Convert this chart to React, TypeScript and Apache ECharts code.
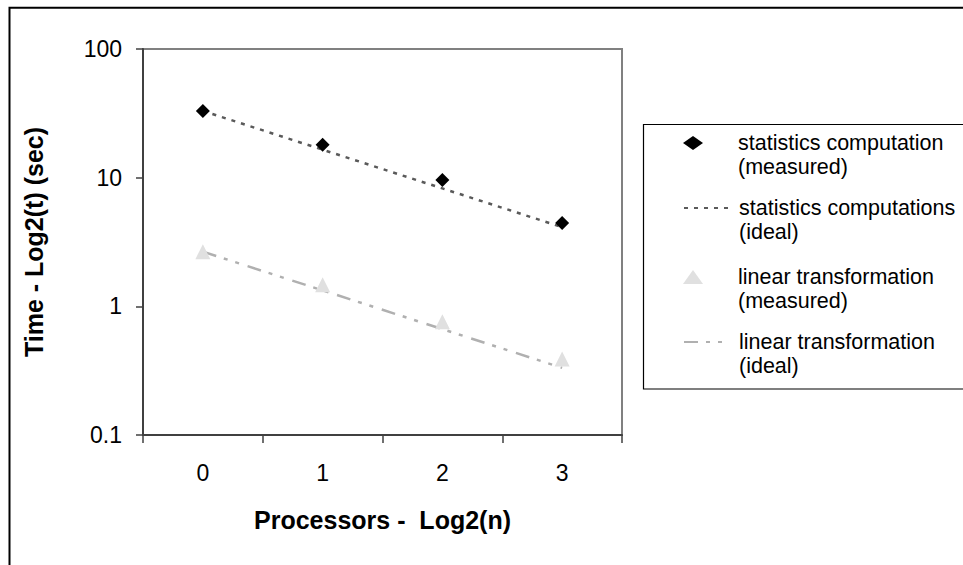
import React, { useEffect, useRef } from "react";
import * as echarts from "echarts";

const categories = ["0", "1", "2", "3"];
const statsMeasured = [33, 18, 9.6, 4.45];
const statsIdeal = [33, 16.5, 8.25, 4.125];
const linearMeasured = [2.66, 1.47, 0.76, 0.39];
const linearIdeal = [2.66, 1.33, 0.665, 0.3325];

const seriesNames = [
  "statistics computation (measured)",
  "statistics computations (ideal)",
  "linear transformation (measured)",
  "linear transformation (ideal)",
];
const legendLines: Record<string, string[]> = {
  [seriesNames[0]]: ["statistics computation", "(measured)"],
  [seriesNames[1]]: ["statistics computations", "(ideal)"],
  [seriesNames[2]]: ["linear transformation", "(measured)"],
  [seriesNames[3]]: ["linear transformation", "(ideal)"],
};

const xTitle = "Processors -  Log2(n)";
const yTitle = "Time - Log2(t) (sec)";

const FONT = "'Liberation Sans', Arial, sans-serif";

export default function App() {
  const ref = useRef<HTMLDivElement>(null);
  useEffect(() => {
    if (!ref.current) return;
    const chart = echarts.init(ref.current, null, { renderer: "svg" });
    const legendFormatter = (n: string) => "\n" + legendLines[n].join("\n");
    const legendText = (padLeft: number) => ({
      fontSize: 21.5,
      lineHeight: 24,
      color: "#000",
      fontFamily: FONT,
      padding: [0, 0, 0, padLeft],
    });
    chart.setOption({
      animation: false,
      backgroundColor: "#fff",
      textStyle: { fontFamily: FONT },
      grid: {
        left: 143,
        top: 49,
        right: 341,
        bottom: 130,
        show: true,
        borderColor: "#808080",
        borderWidth: 2,
      },
      xAxis: {
        type: "category",
        data: categories,
        boundaryGap: true,
        name: xTitle,
        nameLocation: "middle",
        nameGap: 72,
        nameTextStyle: { fontSize: 25, fontWeight: "bold", color: "#000", fontFamily: FONT },
        axisLine: { lineStyle: { color: "#404040", width: 2 } },
        axisTick: { show: true, length: 8, interval: 0, lineStyle: { color: "#404040", width: 1.5 } },
        axisLabel: { fontSize: 23, color: "#000", margin: 26, fontFamily: FONT },
        splitLine: { show: false },
      },
      yAxis: {
        type: "log",
        logBase: 10,
        min: 0.1,
        max: 100,
        name: yTitle,
        nameLocation: "middle",
        nameGap: 97,
        nameTextStyle: { fontSize: 25, fontWeight: "bold", color: "#000", fontFamily: FONT },
        axisLine: { show: true, lineStyle: { color: "#404040", width: 2 } },
        axisTick: { show: true, length: 7, lineStyle: { color: "#404040", width: 1.5 } },
        axisLabel: {
          fontSize: 23,
          color: "#000",
          margin: 21,
          fontFamily: FONT,
          formatter: (v: number) => String(Number(v.toPrecision(3))),
        },
        splitLine: { show: false },
        minorTick: { show: false },
      },
      legend: [
        {
          data: [seriesNames[0], seriesNames[2]],
          orient: "vertical",
          left: 683,
          top: 107,
          itemWidth: 20,
          itemHeight: 14,
          itemGap: 62,
          padding: 0,
          selectedMode: false,
          formatter: legendFormatter,
          textStyle: legendText(30),
          itemStyle: { opacity: 1 },
        },
        {
          data: [seriesNames[1], seriesNames[3]],
          orient: "vertical",
          left: 683,
          top: 172,
          itemWidth: 45,
          itemHeight: 14,
          itemGap: 62,
          padding: 0,
          selectedMode: false,
          formatter: legendFormatter,
          textStyle: legendText(5),
          itemStyle: { color: "rgba(0,0,0,0)", opacity: 0, borderWidth: 0 },
        },
      ],
      graphic: [
        {
          type: "rect",
          silent: true,
          z: -1,
          shape: { x: 9.5, y: 7.8, width: 1200, height: 1200 },
          style: { fill: "none", stroke: "#000", lineWidth: 2 },
        },
        {
          type: "rect",
          silent: true,
          z: -1,
          shape: { x: 643.5, y: 124.5, width: 600, height: 264.5 },
          style: { fill: "none", stroke: "#000", lineWidth: 1.2 },
        },
      ],
      series: [
        {
          name: seriesNames[1],
          type: "line",
          data: statsIdeal,
          symbol: "none",
          z: 2,
          itemStyle: { color: "#5a5a5a" },
          lineStyle: { color: "#5a5a5a", width: 2.5, type: [4, 6] },
        },
        {
          name: seriesNames[3],
          type: "line",
          data: linearIdeal,
          symbol: "none",
          z: 2,
          itemStyle: { color: "#b0b0b0" },
          lineStyle: { color: "#b0b0b0", width: 2.5, type: [14, 8, 4, 8, 4, 9] },
        },
        {
          name: seriesNames[0],
          type: "scatter",
          data: statsMeasured,
          symbol: "diamond",
          symbolSize: 14,
          z: 4,
          itemStyle: { color: "#000", opacity: 1 },
        },
        {
          name: seriesNames[2],
          type: "scatter",
          data: linearMeasured,
          symbol: "triangle",
          symbolSize: 15,
          z: 3,
          itemStyle: { color: "#e0e0e0", opacity: 1 },
        },
      ],
    });
    return () => chart.dispose();
  }, []);
  return (
    <div
      ref={ref}
      style={{ position: "fixed", left: 0, top: 0, width: 963, height: 565 }}
    />
  );
}
